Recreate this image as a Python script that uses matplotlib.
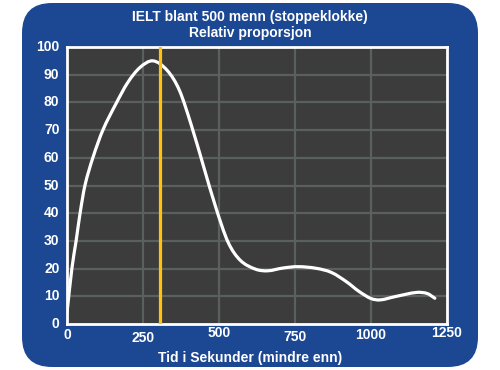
import matplotlib
matplotlib.use("Agg")
import matplotlib.pyplot as plt
from matplotlib.patches import FancyBboxPatch, PathPatch
from matplotlib.path import Path
from matplotlib import transforms

# Data
time_s = [0, 16, 30, 43, 59, 85, 118, 161, 200, 240, 283, 330, 370, 410, 450, 490, 530, 570,
          620, 660, 710, 760, 820, 870, 920, 960, 1000, 1030, 1080, 1150, 1185, 1210]
proportion = [4, 20, 30, 40, 50, 60, 70, 79.5, 87.2, 92.6, 95, 91.5, 84.3, 71.4, 56.6,
              41.9, 29.5, 23, 19.8, 19.2, 20.2, 20.7, 20.1, 18.6, 15.2, 11.8, 9.2, 8.7, 9.9,
              11.4, 11.0, 9.3]
marker_x = 305
x_ticks = [0, 250, 500, 750, 1000, 1250]
y_ticks = [0, 10, 20, 30, 40, 50, 60, 70, 80, 90, 100]
title_lines = ["IELT blant 500 menn (stoppeklokke)", "Relativ proporsjon"]
x_label = "Tid i Sekunder (mindre enn)"

plt.rcParams['font.family'] = ['Liberation Sans', 'DejaVu Sans']

BLUE = "#1c4893"
fig = plt.figure(figsize=(5, 3.7), dpi=100)
fig.patch.set_facecolor("white")

bg = FancyBboxPatch((22 / 500, 3 / 370), 456 / 500, 364 / 370,
                    boxstyle="round,pad=0,rounding_size=0.06",
                    transform=fig.transFigure, facecolor=BLUE, edgecolor="none",
                    mutation_aspect=500 / 370, zorder=-10)
fig.patches.append(bg)

ax = fig.add_axes([67 / 500, 46 / 370, 380 / 500, 277 / 370])
ax.set_zorder(1)
ax.set_facecolor("#3c3c3c")
ax.set_xlim(0, 1250)
ax.set_ylim(0, 100)
for s in ax.spines.values():
    s.set_color("white")
    s.set_linewidth(2)

ax.set_xticks(x_ticks[1:-1])
ax.set_yticks(y_ticks[1:-1])
ax.grid(True, color="#5a605c", linewidth=1.6)
ax.tick_params(length=0, labelbottom=False, labelleft=False)

# y tick labels
yt = transforms.blended_transform_factory(ax.transAxes, ax.transData)
for v in y_ticks:
    ax.text(-0.02, v, str(v), transform=yt,
            ha="right", va="center", color="white", fontsize=10, fontweight="bold")

# x tick labels (slightly staggered as in the reference)
x_offsets_px = [-11, -14, -9, -13, -11, -9]
xt = transforms.blended_transform_factory(ax.transData, ax.transAxes)
for v, off in zip(x_ticks, x_offsets_px):
    t = transforms.offset_copy(xt, fig=fig, x=0, y=off * 72 / 100, units="points")
    ax.text(v, 0, str(v), transform=t, ha="center", va="center",
            color="white", fontsize=10, fontweight="bold")

# smooth curve through the data points (cubic Bezier segments)
n = len(time_s)
slopes = []
for i in range(n):
    a = max(i - 1, 0)
    b = min(i + 1, n - 1)
    slopes.append((proportion[b] - proportion[a]) / (time_s[b] - time_s[a]))
verts = [(time_s[0], proportion[0])]
codes = [Path.MOVETO]
for i in range(n - 1):
    dx = (time_s[i + 1] - time_s[i]) / 3
    verts += [(time_s[i] + dx, proportion[i] + dx * slopes[i]),
              (time_s[i + 1] - dx, proportion[i + 1] - dx * slopes[i + 1]),
              (time_s[i + 1], proportion[i + 1])]
    codes += [Path.CURVE4] * 3
ax.add_patch(PathPatch(Path(verts, codes), facecolor="none", edgecolor="white",
                       linewidth=2.3, capstyle="round", joinstyle="round", zorder=3))
ax.axvline(marker_x, color="#ffc20e", linewidth=2.3, zorder=4)

fig.text(0.5, 1 - 17 / 370, title_lines[0], ha="center", va="center",
         color="white", fontsize=10, fontweight="bold")
fig.text(0.5, 1 - 33 / 370, title_lines[1], ha="center", va="center",
         color="white", fontsize=10, fontweight="bold")
fig.text(0.5, 1 - 358 / 370, x_label, ha="center", va="center",
         color="white", fontsize=10, fontweight="bold")

fig.savefig("out.png", dpi=100, facecolor=fig.get_facecolor())
